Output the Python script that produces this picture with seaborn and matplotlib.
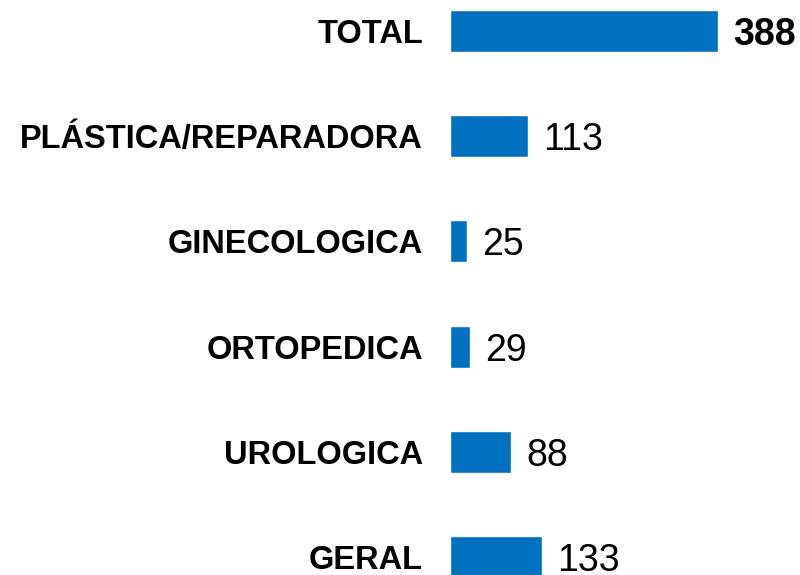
import pandas as pd
import seaborn as sns
import matplotlib.pyplot as plt

# Surgery counts by specialty
categories = ['TOTAL', 'PLÁSTICA/REPARADORA', 'GINECOLOGICA', 'ORTOPEDICA', 'UROLOGICA', 'GERAL']
counts = [388, 113, 25, 29, 88, 133]

data = pd.DataFrame({'Especialidade': categories, 'Cirurgias': counts})

sns.set_style('white')
plt.rcParams['font.family'] = ['Liberation Sans', 'DejaVu Sans']
plt.rcParams['text.color'] = 'black'
plt.rcParams['ytick.color'] = 'black'

fig = plt.figure(figsize=(8, 5.75), dpi=100)
ax = fig.add_axes([0.5625, 0.0, 0.3885, 1.0])

sns.barplot(data=data, x='Cirurgias', y='Especialidade', orient='h',
            color='#0070C0', saturation=1, width=0.4, ax=ax)

ax.set_xlim(0, 450)
ax.set_ylim(5.171, -0.295)

# value labels at bar ends, total in bold
labels = ax.bar_label(ax.containers[0], padding=11, fontsize=27, color='black')
for t in labels:
    t.set_va('center_baseline')
labels[0].set_fontweight('bold')

ax.set_xlabel('')
ax.set_ylabel('')
ax.set_xticks([])
ax.tick_params(axis='y', length=0, pad=19.5, labelsize=23.5, labelcolor='black')
for t in ax.get_yticklabels():
    t.set_fontweight('bold')
sns.despine(ax=ax, left=True, bottom=True)

fig.savefig('out.png', dpi=100)
